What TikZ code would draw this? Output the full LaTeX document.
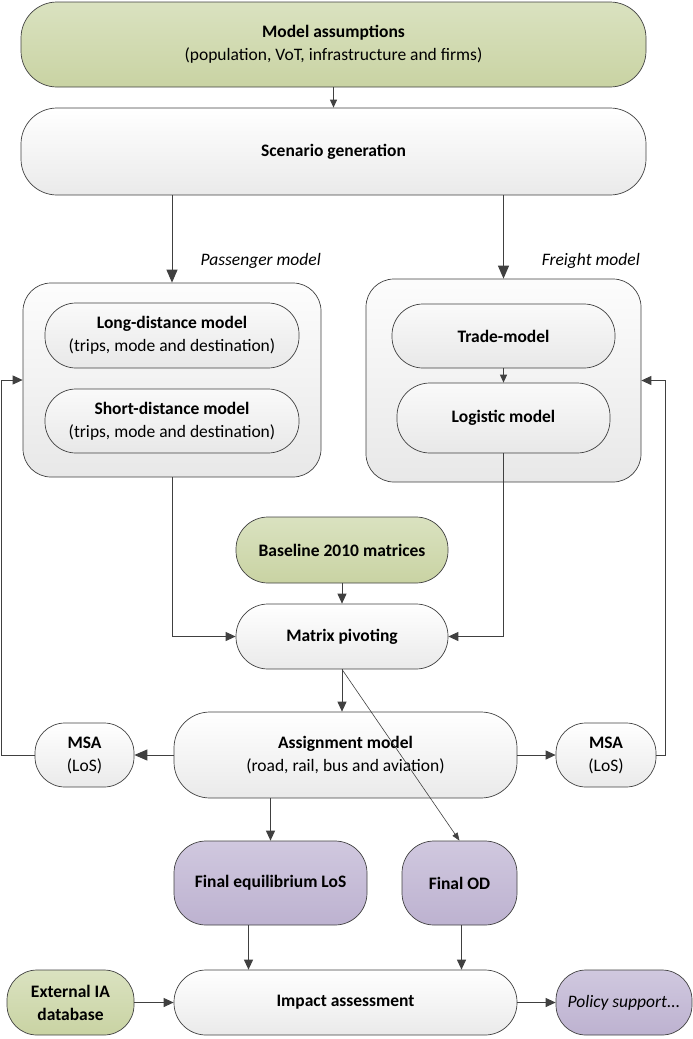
\documentclass[tikz,border=0pt]{standalone}
\usepackage{fontspec}
\setmainfont{Carlito}
\usetikzlibrary{arrows.meta}
\definecolor{edgegray}{HTML}{404040}
\definecolor{greentop}{HTML}{DAE2C0}
\definecolor{greenbot}{HTML}{C9D3A3}
\definecolor{purptop}{HTML}{D0C8DF}
\definecolor{purpbot}{HTML}{BDB2D0}
\definecolor{whitebot}{HTML}{EAEAEA}
\definecolor{framebot}{HTML}{E8E8E8}
\begin{document}
\begin{tikzpicture}[x=1pt,y=-1pt,
  box/.style={draw=edgegray, line width=0.7pt, inner sep=0pt, align=center,
    font=\fontsize{17.5}{23}\selectfont},
  greenbox/.style={box, top color=greentop, bottom color=greenbot},
  purplebox/.style={box, top color=purptop, bottom color=purpbot},
  whitebox/.style={box, top color=white, bottom color=whitebot},
  framebox/.style={box, top color=white!99!black, bottom color=framebot},
  innerbox/.style={box, top color=white!98!black, bottom color=white!91!black},
  lab/.style={inner sep=0pt, font=\fontsize{17.5}{21}\selectfont\itshape},
  conn/.style={draw=edgegray, line width=1pt},
  smallarr/.style={conn, -{Triangle[length=8pt,width=7pt]}},
  midarr/.style={conn, -{Triangle[length=10pt,width=9pt]}},
  bigarr/.style={conn, -{Triangle[length=13pt,width=11pt]}},
  thinarr/.style={draw=edgegray, line width=0.6pt, -{Triangle[length=8pt,width=6pt]}}
]
\useasboundingbox (0,0) rectangle (693,1039);

% top of the chain
\node[greenbox, minimum width=625pt, minimum height=85pt, rounded corners=36pt]
  (assume) at (333.5,44.5) {\textbf{Model assumptions}\\(population, VoT, infrastructure and firms)};
\node[whitebox, minimum width=625pt, minimum height=87pt, rounded corners=36pt]
  (scen) at (333.5,151.5) {\textbf{Scenario generation}};

% passenger and freight sub-models
\node[framebox, minimum width=298pt, minimum height=194pt, rounded corners=28pt]
  (pass) at (172,380) {};
\node[innerbox, minimum width=254pt, minimum height=65pt, rounded corners=31pt]
  (ld) at (172,335.5) {\textbf{Long-distance model}\\(trips, mode and destination)};
\node[innerbox, minimum width=254pt, minimum height=64pt, rounded corners=31pt]
  (sd) at (172,421) {\textbf{Short-distance model}\\(trips, mode and destination)};

\node[framebox, minimum width=275pt, minimum height=203pt, rounded corners=28pt]
  (frt) at (503.5,380.5) {};
\node[innerbox, minimum width=223pt, minimum height=64pt, rounded corners=31pt]
  (trade) at (503.5,336) {\textbf{Trade-model}};
\node[innerbox, minimum width=213pt, minimum height=70pt, rounded corners=33pt]
  (logi) at (503.5,418) {\textbf{Logistic model}};

\node[lab, anchor=east] (plab) at (321,261) {Passenger model};
\node[lab, anchor=east] (flab) at (640,261) {Freight model};

% matrices
\node[greenbox, minimum width=212pt, minimum height=66pt, rounded corners=32pt]
  (base) at (342,550) {\textbf{Baseline 2010 matrices}};
\node[whitebox, minimum width=212pt, minimum height=65pt, rounded corners=32pt]
  (pivot) at (342,636.5) {\textbf{Matrix pivoting}};

% assignment and MSA loops
\node[whitebox, minimum width=343pt, minimum height=86pt, rounded corners=36pt]
  (assign) at (345.5,755) {\textbf{Assignment model}\\(road, rail, bus and aviation)};
\node[whitebox, minimum width=99pt, minimum height=64pt, rounded corners=30pt]
  (msal) at (84.5,755) {\textbf{MSA}\\(LoS)};
\node[whitebox, minimum width=100pt, minimum height=64pt, rounded corners=30pt]
  (msar) at (606,755) {\textbf{MSA}\\(LoS)};

% results
\node[purplebox, minimum width=193pt, minimum height=84pt, rounded corners=32pt]
  (finlos) at (270.5,883) {\textbf{Final equilibrium LoS}};
\node[purplebox, minimum width=115pt, minimum height=84pt, rounded corners=32pt]
  (finod) at (459.5,883) {\textbf{Final OD}};

% impact assessment row
\node[whitebox, minimum width=343pt, minimum height=65pt, rounded corners=32pt]
  (impact) at (345.5,1002.5) {\textbf{Impact assessment}};
\node[greenbox, minimum width=127pt, minimum height=65pt, rounded corners=30pt]
  (extdb) at (70.5,1002.5) {\textbf{External IA}\\\textbf{database}};
\node[purplebox, minimum width=136pt, minimum height=65pt, rounded corners=30pt]
  (policy) at (624,1002.5) {\textit{Policy support...}};

% connectors
\draw[smallarr] (assume.south) -- (scen.north);
\draw[bigarr] (scen.south -| pass.north) -- (pass.north);
\draw[bigarr] (scen.south -| frt.north) -- (frt.north);
\draw[smallarr] (trade.south) -- (logi.north);

\draw[midarr] (pass.south) |- (pivot.west);
\draw[midarr] (logi.south) |- (pivot.east);
\draw[midarr] (base.south) -- (pivot.north);

\draw[midarr] (pivot.south) -- (pivot.south |- assign.north);
\draw[thinarr] (pivot.south) -- (finod.north);

\draw[bigarr] (assign.west) -- (msal.east);
\draw[midarr] (assign.east) -- (msar.west);
\coordinate (lbend) at ([xshift=-21pt]pass.west);
\coordinate (rbend) at ([xshift=24pt]frt.east);
\draw[midarr] (msal.west) -| (lbend) -- (pass.west);
\draw[midarr] (msar.east) -| (rbend) -- (frt.east);

\draw[midarr] (finlos.north |- assign.south) -- (finlos.north);
\draw[midarr] ([xshift=-22pt]finlos.south) -- ([xshift=-22pt]finlos.south |- impact.north);
\draw[midarr] ([xshift=2pt]finod.south) -- ([xshift=2pt]finod.south |- impact.north);

\draw[midarr] (extdb.east) -- (impact.west);
\draw[midarr] (impact.east) -- (policy.west);
\end{tikzpicture}
\end{document}
